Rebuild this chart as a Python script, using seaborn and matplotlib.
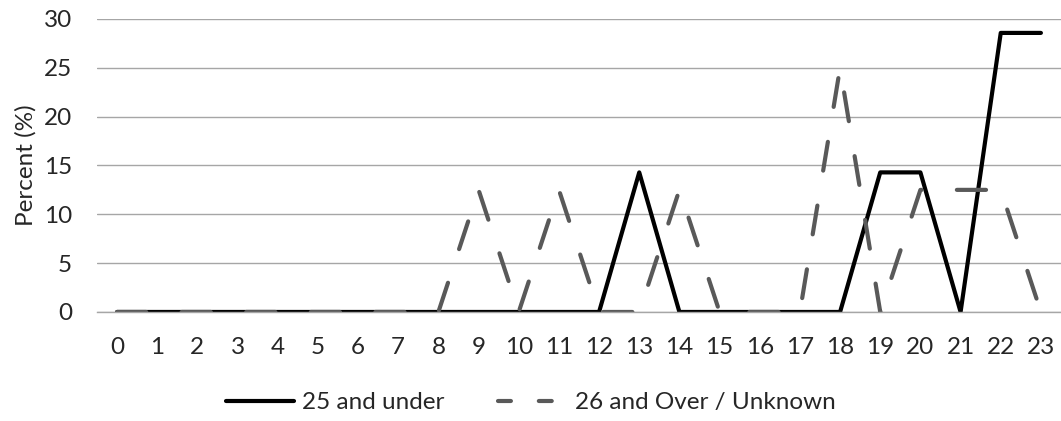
import pandas as pd
import matplotlib
matplotlib.use("Agg")
import matplotlib.pyplot as plt
import seaborn as sns

# data
hours = list(range(24))
under_25 = [0, 0, 0, 0, 0, 0, 0, 0, 0, 0, 0, 0, 0, 14.29, 0, 0, 0, 0, 0, 14.29, 14.29, 0, 28.57, 28.57]
over_26 = [0, 0, 0, 0, 0, 0, 0, 0, 0, 12.5, 0, 12.5, 0, 0, 12.5, 0, 0, 0, 25, 0, 12.5, 12.5, 12.5, 0]
series_names = ["25 and under", "26 and Over / Unknown"]

df = pd.DataFrame({
    "hour": hours * 2,
    "percent": under_25 + over_26,
    "group": [series_names[0]] * len(hours) + [series_names[1]] * len(hours),
})

sns.set_theme(style="white")
plt.rcParams["font.family"] = ["Lato", "DejaVu Sans"]

fig = plt.figure(figsize=(10.61, 4.21), dpi=100)
ax = fig.add_axes([0.0914, 0.259, 0.9086, 0.696])

ax.yaxis.grid(True, color="#a6a6a6", linewidth=1.0)
ax.set_axisbelow(True)

sns.lineplot(data=df, x="hour", y="percent", hue="group", style="group",
             palette={series_names[0]: "black", series_names[1]: "#595959"},
             dashes={series_names[0]: "", series_names[1]: (7, 8.5)},
             linewidth=3.0, ax=ax, legend=True)

for line in ax.lines:
    line.set_dash_capstyle("round")
    line.set_solid_capstyle("round")

ax.set_xlim(-0.5, 23.5)
ax.set_ylim(0, 30)
ax.set_xticks(hours)
ax.set_yticks(range(0, 31, 5))
ax.tick_params(axis="x", labelsize=17.5, length=0, pad=18)
ax.tick_params(axis="y", labelsize=17.5, length=0, pad=18)
ax.set_xlabel("")
ax.set_ylabel("Percent (%)", fontsize=17.5)
ax.yaxis.set_label_coords(-0.063, 0.5)

for side in ["top", "right", "left"]:
    ax.spines[side].set_visible(False)
ax.spines["bottom"].set_color("#a6a6a6")
ax.spines["bottom"].set_linewidth(1.0)

handles, labels = ax.get_legend_handles_labels()
leg = ax.legend(handles, labels, loc="center", bbox_to_anchor=(0.5, 0.043),
                bbox_transform=fig.transFigure, ncol=2, frameon=False, fontsize=17.5,
                handlelength=2.8, columnspacing=2.2, handletextpad=0.35)

# legend swatches: solid bar, and two short dashes for the second series
leg_lines = leg.get_lines()
for h in leg_lines:
    h.set_solid_capstyle("round")
    h.set_dash_capstyle("round")
leg_lines[1].set_dashes((3.1, 6.7))

fig.savefig("out.png", dpi=100)
